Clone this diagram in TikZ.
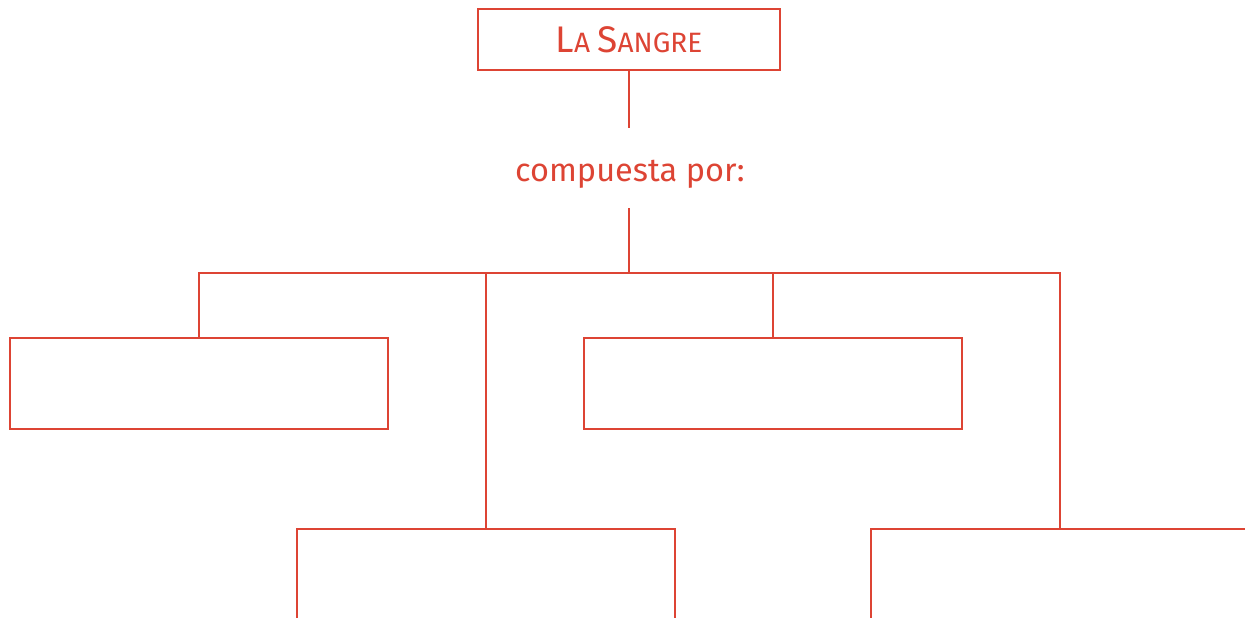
\documentclass[tikz,border=0pt]{standalone}
\usepackage{fontspec}
\setmainfont{Fira Sans}
\definecolor{sred}{RGB}{221,68,52}
\begin{document}
\begin{tikzpicture}[x=1pt,y=-1pt,
  box/.style={draw=sred,line width=2pt,minimum width=378pt,minimum height=91pt,inner sep=0pt,anchor=center},
  conn/.style={draw=sred,line width=2pt}]
\useasboundingbox (0,0) rectangle (1245,618);
\clip (0,0) rectangle (1245,618);
\node[draw=sred,line width=2pt,minimum width=302pt,minimum height=61pt,inner sep=0pt,text=sred] (top) at (629,39.5)
  {\raisebox{-3pt}{\fontsize{37}{38}\selectfont L\fontsize{28}{29}\selectfont A \fontsize{37}{38}\selectfont S\fontsize{28}{29}\selectfont ANGRE}};
\node[inner sep=0pt,text=sred] (comp) at (630,174) {\fontsize{32.5}{34}\selectfont compuesta por:};
\coordinate (c1) at (629,128);
\coordinate (c2) at (629,208);
\coordinate (j) at (629,273);
\node[box] (b1) at (199,383.5) {};
\node[box] (b2) at (772.5,383.5) {};
\node[box] (b3) at (486,574.5) {};
\node[box] (b4) at (1060,574.5) {};
\draw[conn] (top.south) -- (c1);
\draw[conn] (c2) -- (j);
\draw[conn] (b1.north) -- (b1.north |- j) -- (b4.north |- j) -- (b4.north);
\draw[conn] (b2.north) -- (b2.north |- j);
\draw[conn] (b3.north) -- (b3.north |- j);
\end{tikzpicture}
\end{document}
